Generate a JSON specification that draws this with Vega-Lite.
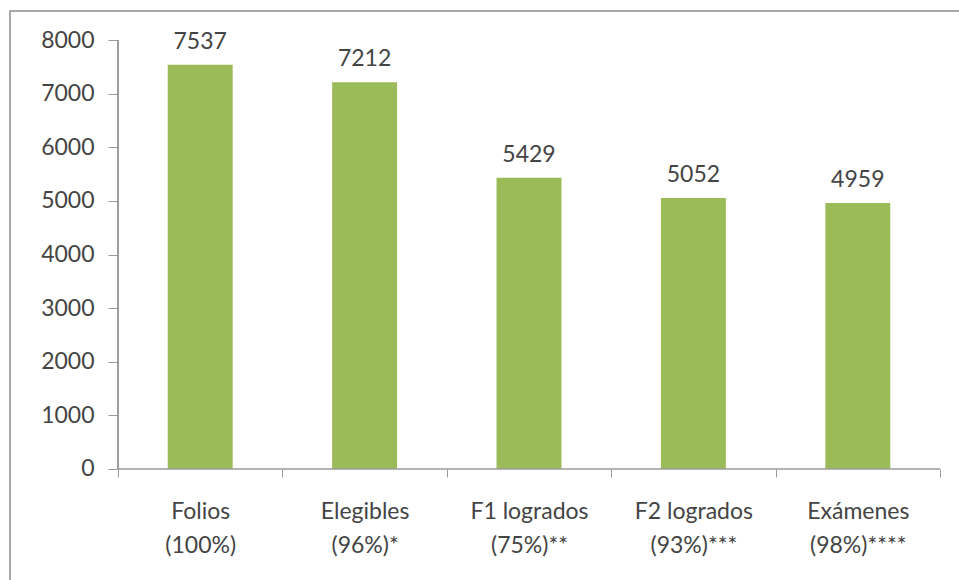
{
  "$schema": "https://vega.github.io/schema/vega-lite/v6.json",
  "autosize": "none",
  "width": 1038,
  "height": 589,
  "padding": {"left": 10, "top": 11, "right": -89, "bottom": -20},
  "background": "white",
  "config": {
    "view": {"stroke": "#8c8c8c", "strokeWidth": 1.5},
    "font": "Lato"
  },
  "data": {
    "values": [
      {"etapa": "Folios\n(100%)", "n": 7537},
      {"etapa": "Elegibles\n(96%)*", "n": 7212},
      {"etapa": "F1 logrados\n(75%)**", "n": 5429},
      {"etapa": "F2 logrados\n(93%)***", "n": 5052},
      {"etapa": "Exámenes\n(98%)****", "n": 4959}
    ]
  },
  "layer": [
    {
      "mark": {"type": "bar", "color": "#9BBB59", "width": {"band": 0.395}},
      "encoding": {
        "x": {
          "field": "etapa",
          "type": "nominal",
          "sort": null,
          "scale": {"paddingInner": 0, "paddingOuter": 0.657},
          "axis": {
            "orient": "bottom",
            "offset": -131,
            "domain": false,
            "grid": false,
            "tickBand": "extent",
            "tickSize": 8,
            "tickColor": "#9a9a9a",
            "labelAngle": 0,
            "labelFontSize": 23,
            "labelColor": "#444444",
            "labelLineHeight": 34,
            "labelPadding": 23,
            "labelOverlap": false,
            "labelExpr": "split(datum.label, '\\n')",
            "title": null
          }
        },
        "y": {
          "field": "n",
          "type": "quantitative",
          "scale": {"domain": [-2442.9, 8540.8], "nice": false, "zero": false},
          "axis": {
            "values": [0, 1000, 2000, 3000, 4000, 5000, 6000, 7000, 8000],
            "format": "d",
            "offset": -108,
            "domain": false,
            "grid": false,
            "tickSize": 10,
            "tickColor": "#9a9a9a",
            "labelFontSize": 23,
            "labelColor": "#444444",
            "labelPadding": 14,
            "title": null
          }
        },
        "y2": {"datum": 0}
      }
    },
    {
      "mark": {"type": "text", "baseline": "alphabetic", "dy": -16, "fontSize": 23, "color": "#444444"},
      "encoding": {
        "x": {"field": "etapa", "type": "nominal", "sort": null},
        "y": {"field": "n", "type": "quantitative"},
        "text": {"field": "n", "type": "quantitative", "format": "d"}
      }
    },
    {
      "mark": {"type": "rule", "color": "#9a9a9a", "strokeWidth": 1},
      "encoding": {
        "x": {"datum": "Folios\n(100%)", "type": "nominal", "bandPosition": 0},
        "y": {"datum": 0, "type": "quantitative"},
        "y2": {"datum": 8000}
      }
    },
    {
      "mark": {"type": "bar", "fill": null, "stroke": "#9a9a9a", "strokeWidth": 1, "width": {"band": 1}},
      "encoding": {
        "x": {"field": "etapa", "type": "nominal", "sort": null},
        "y": {"datum": 0, "type": "quantitative"},
        "y2": {"datum": 0}
      }
    }
  ]
}
